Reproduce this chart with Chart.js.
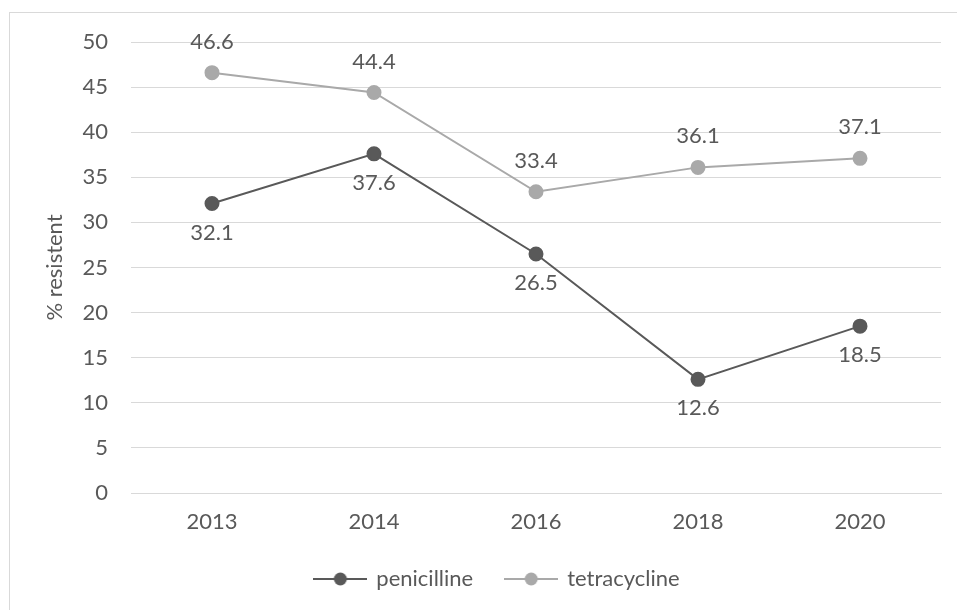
<!DOCTYPE html>
<html>
<head>
<meta charset="utf-8">
<script src="https://cdn.jsdelivr.net/npm/chart.js@4.4.1/dist/chart.umd.min.js"></script>
<style>
  html, body { margin: 0; padding: 0; background: #fff; }
  #wrap { position: relative; width: 957px; height: 610px; overflow: hidden; }
  #frame { position: absolute; left: 9px; top: 12px; width: 960px; height: 620px; border: 1.5px solid #d9d9d9; box-sizing: border-box; }
  canvas { position: absolute; left: 0; top: 0; }
</style>
</head>
<body>
<div id="wrap">
  <div id="frame"></div>
  <canvas id="chart" width="957" height="610"></canvas>
</div>
<script>
// gegevens uit de grafiek
const years = ["2013", "2014", "2016", "2018", "2020"];
const penicilline = [32.1, 37.6, 26.5, 12.6, 18.5];
const tetracycline = [46.6, 44.4, 33.4, 36.1, 37.1];

const darkGrey = "#595959";
const lightGrey = "#a9a9a9";
const textColor = "#595959";
const fontFamily = "Lato, 'Open Sans', sans-serif";
const fontSize = 22;

// legend symbool: lijn met rondje
function legendIcon(color) {
    const c = document.createElement("canvas");
    c.width = 54;
    c.height = 14;
    const g = c.getContext("2d");
    g.strokeStyle = color;
    g.lineWidth = 2;
    g.beginPath();
    g.moveTo(0, 7);
    g.lineTo(54, 7);
    g.stroke();
    g.fillStyle = color;
    g.beginPath();
    g.arc(27, 7, 6.5, 0, Math.PI * 2);
    g.fill();
    return c;
}

// waarden boven/onder de punten
const valueLabels = {
    id: "valueLabels",
    afterLayout(chart) {
        // legenda iets naar rechts, zoals in Excel
        chart.legend.left += 27;
        chart.legend.right += 27;
    },
    afterDatasetsDraw(chart) {
        const ctx = chart.ctx;
        ctx.save();
        ctx.font = fontSize + "px " + fontFamily;
        ctx.fillStyle = textColor;
        ctx.textAlign = "center";
        ctx.textBaseline = "middle";
        chart.data.datasets.forEach((ds, i) => {
            const meta = chart.getDatasetMeta(i);
            meta.data.forEach((pt, j) => {
                ctx.fillText(ds.data[j].toFixed(1), pt.x, pt.y + ds.labelOffset);
            });
        });
        ctx.restore();
    }
};

const ctx = document.getElementById("chart").getContext("2d");
new Chart(ctx, {
    type: "line",
    data: {
        labels: years,
        datasets: [{
            label: "penicilline",
            data: penicilline,
            borderColor: darkGrey,
            backgroundColor: darkGrey,
            borderWidth: 2,
            pointRadius: 6.5,
            pointHoverRadius: 6.5,
            pointStyle: "circle",
            labelOffset: 29,
            legendIcon: legendIcon(darkGrey)
        }, {
            label: "tetracycline",
            data: tetracycline,
            borderColor: lightGrey,
            backgroundColor: lightGrey,
            borderWidth: 2,
            pointRadius: 6.5,
            pointHoverRadius: 6.5,
            pointStyle: "circle",
            labelOffset: -31,
            legendIcon: legendIcon(lightGrey)
        }]
    },
    options: {
        responsive: false,
        animation: false,
        layout: { padding: { left: 0, right: 16, top: 42, bottom: 10 } },
        plugins: {
            tooltip: { enabled: false },
            legend: {
                position: "bottom",
                labels: {
                    usePointStyle: true,
                    pointStyleWidth: 50,
                    padding: 33,
                    color: textColor,
                    font: { family: fontFamily, size: fontSize },
                    generateLabels(chart) {
                        return chart.data.datasets.map((ds, i) => ({
                            text: ds.label,
                            pointStyle: ds.legendIcon,
                            fontColor: textColor,
                            datasetIndex: i,
                            lineWidth: 0
                        }));
                    }
                }
            }
        },
        scales: {
            x: {
                offset: true,
                afterFit(scale) { scale.height = 42; },
                grid: { display: false, drawTicks: false },
                border: { display: true, color: "#d9d9d9", width: 1 },
                ticks: { color: textColor, padding: 16, font: { family: fontFamily, size: fontSize } }
            },
            y: {
                min: 0,
                max: 50,
                afterFit(scale) { scale.width = 131; },
                grid: { color: "#d9d9d9", lineWidth: 1, drawTicks: false },
                border: { display: false },
                ticks: { stepSize: 5, color: textColor, padding: 23, font: { family: fontFamily, size: fontSize } },
                title: {
                    display: true,
                    text: "% resistent",
                    color: textColor,
                    padding: { top: 42, bottom: 0 },
                    font: { family: fontFamily, size: fontSize }
                }
            }
        }
    },
    plugins: [valueLabels]
});
</script>
</body>
</html>
